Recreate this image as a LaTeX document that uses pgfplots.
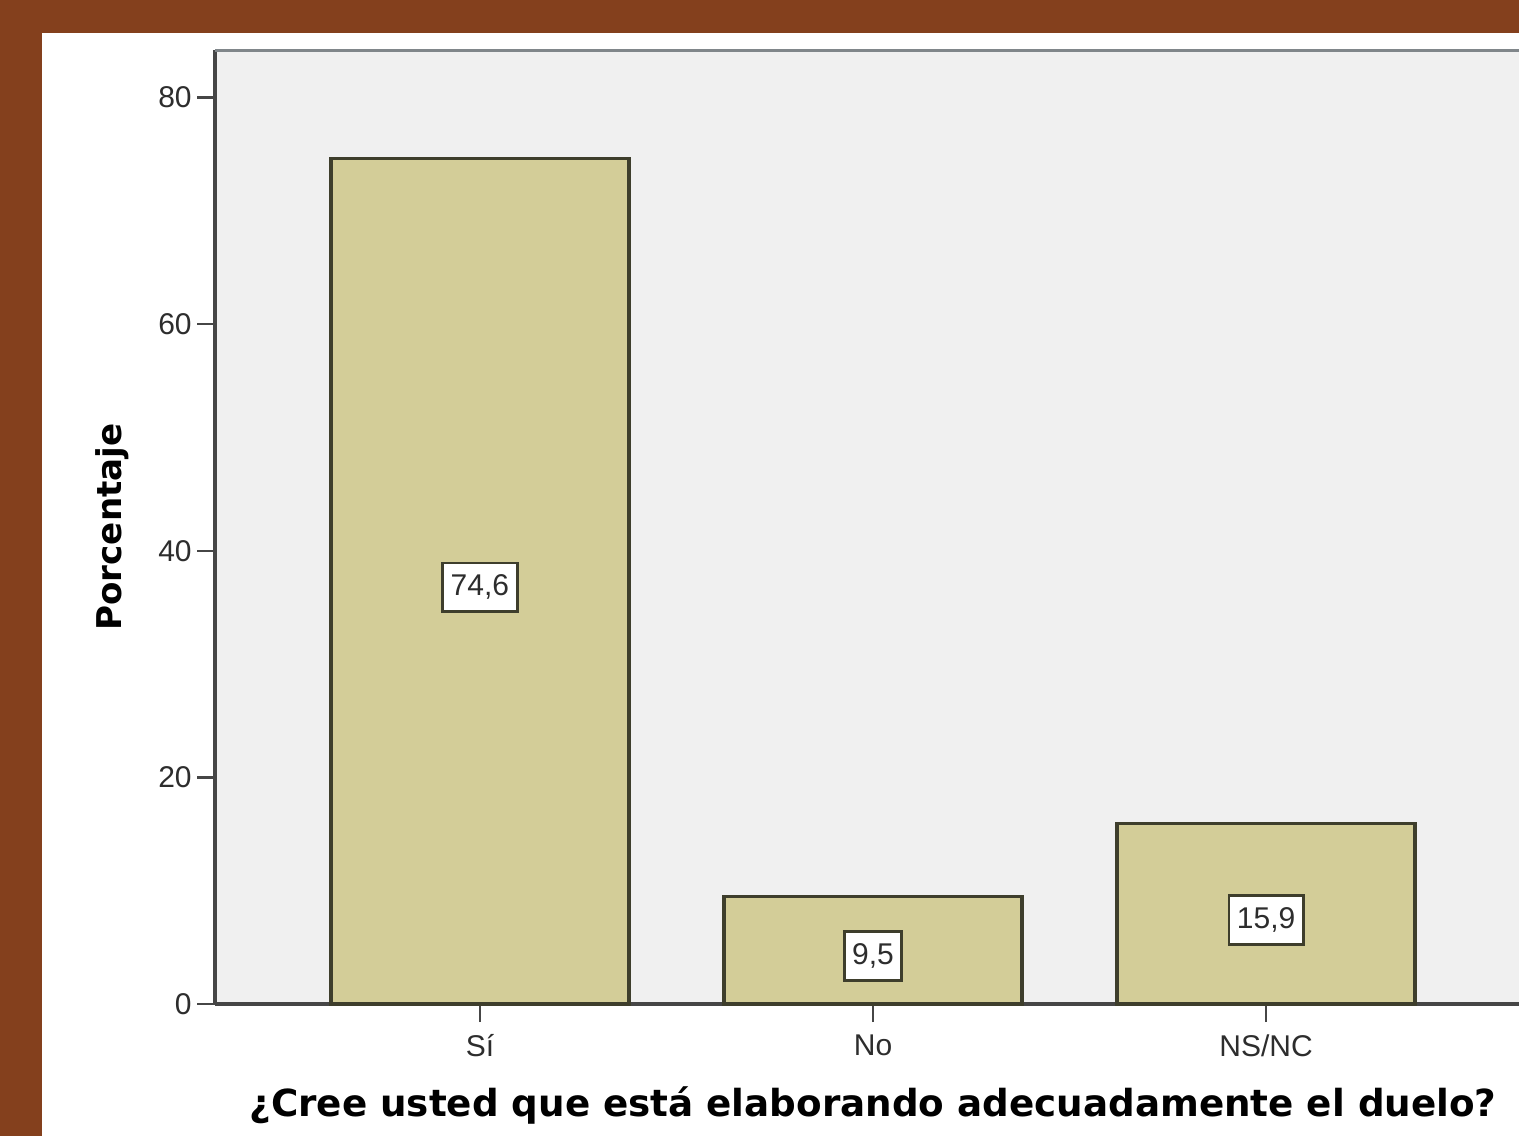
\documentclass[border=0pt]{standalone}
\usepackage{pgfplots}
\pgfplotsset{compat=1.18}
\usepackage{graphicx}
\usepackage{fontspec}
\setmainfont{Liberation Sans}
\newfontfamily\vfont{DejaVu Sans}
\definecolor{framebrown}{RGB}{132,64,29}
\definecolor{plotbg}{RGB}{240,240,240}
\definecolor{barfill}{RGB}{211,205,152}
\definecolor{bardraw}{RGB}{62,62,44}
\definecolor{axcol}{RGB}{70,70,70}
\definecolor{topcol}{RGB}{128,134,138}
\definecolor{txtcol}{RGB}{45,45,45}
\begin{document}
\begin{tikzpicture}
\useasboundingbox (0,0) rectangle (379.75pt,284pt);
\clip (0,0) rectangle (379.75pt,284pt);
\fill[framebrown] (0,0) rectangle (379.75pt,284pt);
\fill[white] (10.5pt,0) rectangle (379.75pt,275.75pt);
\begin{axis}[
  at={(53.75pt,33pt)}, anchor=south west,
  scale only axis, width=329pt, height=238.5pt,
  xmin=-0.674, xmax=2.674, ymin=0, ymax=84.2,
  axis background/.style={fill=plotbg},
  axis x line*=bottom, axis y line*=left,
  axis line style={-, draw=axcol, line width=1pt},
  tick align=outside, major tick length=4.5pt,
  tick style={draw=axcol, line width=0.6pt},
  xtick={0,1,2}, xticklabels={Sí,No,NS/NC},
  ytick={0,20,40,60,80},
  ticklabel style={font=\fontsize{7.5}{9}\selectfont, text=txtcol},
  yticklabel style={xshift=2.2pt},
  xticklabel style={yshift=0.4pt},
  /pgf/number format/assume math mode=true,
  xlabel={\resizebox{311.75pt}{!}{\vfont\bfseries ¿Cree usted que está elaborando adecuadamente el duelo?}},
  ylabel={\resizebox{51.75pt}{!}{\vfont\bfseries Porcentaje}},
  xlabel style={at={(axis description cs:0.5,-0.1059)}, anchor=center, inner sep=0pt, text=black},
  ylabel style={at={(axis description cs:-0.0783,0.5)}, anchor=center, inner sep=0pt, text=black},
  after end axis/.code={\draw[topcol, line width=0.75pt] (rel axis cs:0,1) -- (rel axis cs:1,1);},
  clip=false,
]
\addplot[ybar, bar width=74.5pt, bar shift=0pt, fill=barfill, draw=bardraw, line width=0.8pt]
  coordinates {(0,74.6) (1,9.5) (2,15.9)};
\addplot[only marks, mark=none, point meta=explicit,
  nodes near coords={\pgfmathprintnumber[use comma,fixed,fixed zerofill,precision=1]{\pgfplotspointmeta}},
  nodes near coords style={anchor=center, yshift=-1.5pt, fill=white, draw=bardraw, line width=0.7pt,
    inner xsep=2pt, inner ysep=3pt, font=\fontsize{7.5}{9}\selectfont, text=txtcol}]
  coordinates {(0,37.3)[74.6] (1,4.75)[9.5] (2,7.95)[15.9]};
\end{axis}
\end{tikzpicture}
\end{document}
